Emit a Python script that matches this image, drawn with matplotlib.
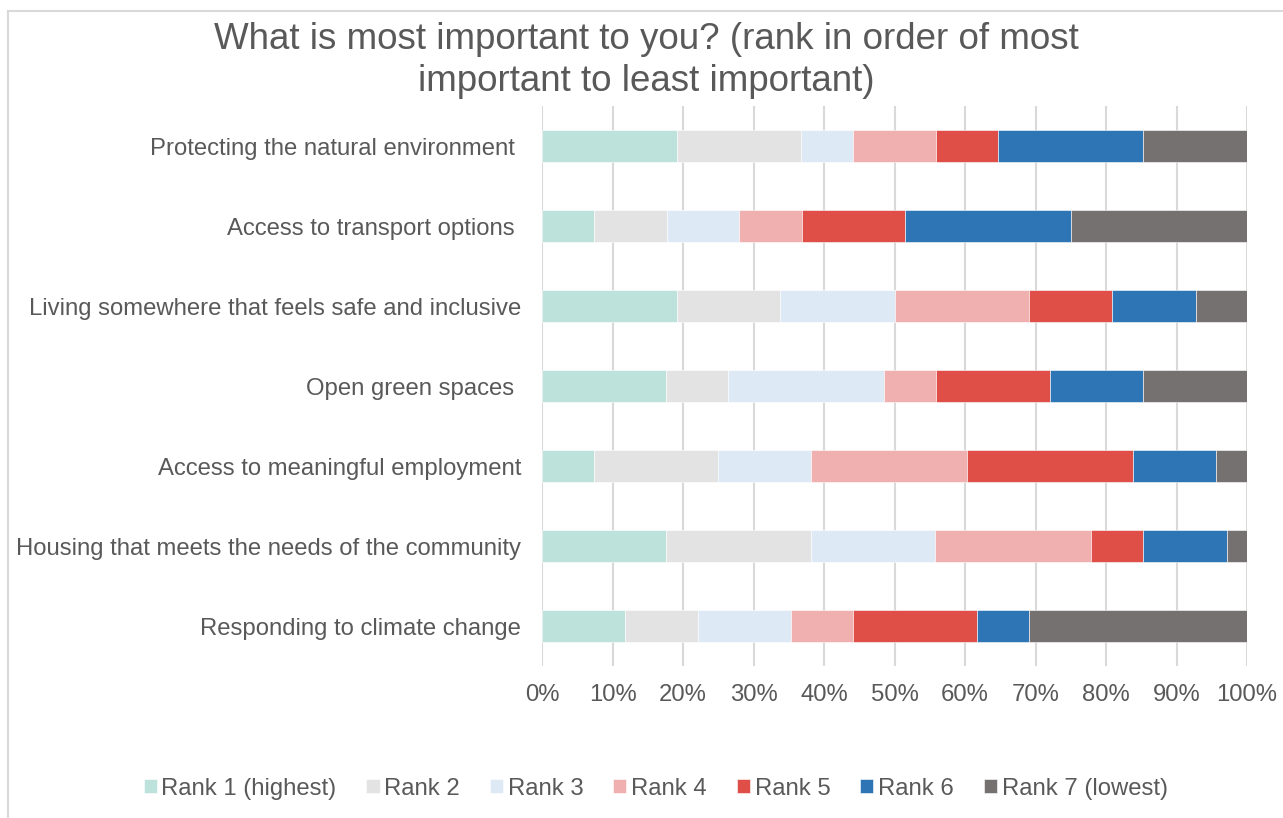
import matplotlib.pyplot as plt
import numpy as np
from matplotlib.lines import Line2D

plt.rcParams["font.family"] = ["Liberation Sans", "DejaVu Sans"]

TEXT = "#595959"

categories = [
    "Protecting the natural environment ",
    "Access to transport options ",
    "Living somewhere that feels safe and inclusive",
    "Open green spaces ",
    "Access to meaningful employment",
    "Housing that meets the needs of the community",
    "Responding to climate change",
]
ranks = ["Rank 1 (highest)", "Rank 2", "Rank 3", "Rank 4", "Rank 5", "Rank 6", "Rank 7 (lowest)"]
colors = ["#bde2db", "#e3e3e3", "#dde9f5", "#f0b0b0", "#e04e48", "#2e75b5", "#767171"]

# share of respondents (%) per rank, one list per rank, in category order
rank1 = [19.1, 7.4, 19.1, 17.6, 7.4, 17.6, 11.8]
rank2 = [17.6, 10.3, 14.7, 8.8, 17.6, 20.6, 10.3]
rank3 = [7.4, 10.3, 16.2, 22.1, 13.2, 17.6, 13.2]
rank4 = [11.8, 8.8, 19.1, 7.4, 22.1, 22.1, 8.8]
rank5 = [8.8, 14.7, 11.8, 16.2, 23.5, 7.4, 17.6]
rank6 = [20.6, 23.5, 11.8, 13.2, 11.8, 11.8, 7.4]
rank7 = [14.7, 25.0, 7.4, 14.7, 4.4, 2.9, 30.9]

series = [rank1, rank2, rank3, rank4, rank5, rank6, rank7]

fig = plt.figure(figsize=(12.83, 8.18), dpi=100)
ax = fig.add_axes([0.4225, 0.1858, 0.5495, 0.6846])

y = np.arange(len(categories))
left = np.zeros(len(categories))
for vals, name, col in zip(series, ranks, colors):
    vals = np.array(vals)
    ax.barh(y, vals, left=left, height=0.4, color=col, label=name,
            edgecolor="white", linewidth=0.4, zorder=3)
    left += vals

ax.set_xlim(0, 100)
ax.set_ylim(len(categories) - 0.5, -0.5)
ax.set_xticks(np.arange(0, 101, 10))
ax.set_xticklabels([f"{v}%" for v in range(0, 101, 10)])
ax.set_yticks(y)
ax.set_yticklabels(categories)
ax.tick_params(axis="both", length=0, labelsize=17.2, colors=TEXT)
ax.tick_params(axis="x", pad=13)
ax.tick_params(axis="y", pad=15)
ax.grid(axis="x", color="#d9d9d9", linewidth=1.5, zorder=0)
for s in ax.spines.values():
    s.set_visible(False)

fig.text(0.504, 0.926, "What is most important to you? (rank in order of most\nimportant to least important)",
         ha="center", va="center", fontsize=26.5, color=TEXT, linespacing=1.25)

fig.legend(loc="center", bbox_to_anchor=(0.511, 0.036), ncol=7, frameon=False,
           fontsize=17.2, labelcolor=TEXT, handlelength=0.55, handleheight=0.55,
           handletextpad=0.2, columnspacing=1.25)

# chart area border (left and top visible)
fig.add_artist(Line2D([0.0066, 0.0066], [0, 0.986], color="#d9d9d9", linewidth=1.5))
fig.add_artist(Line2D([0.0066, 1.0], [0.986, 0.986], color="#d9d9d9", linewidth=1.5))

fig.savefig("out.png", dpi=100)
